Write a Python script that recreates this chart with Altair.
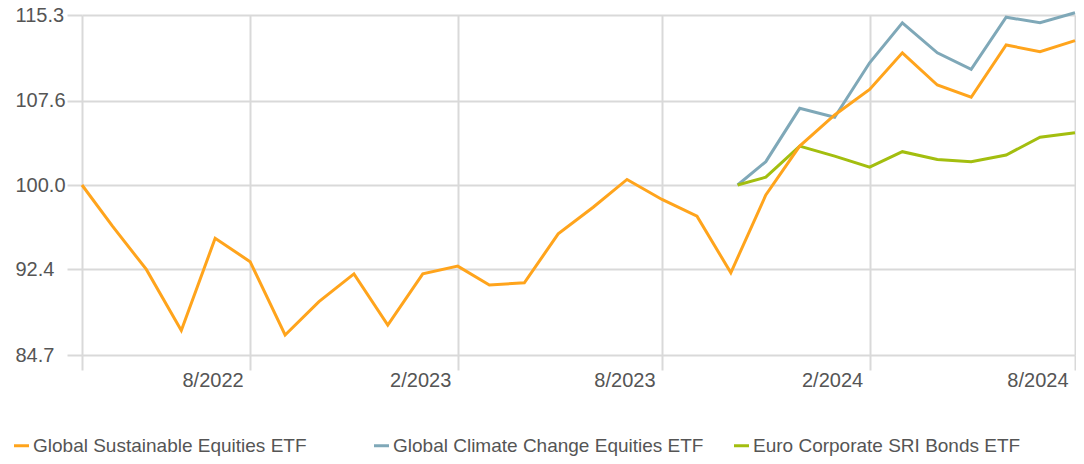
import altair as alt
import pandas as pd

# ---- data ----
series_names = ["Global Sustainable Equities ETF",
                "Global Climate Change Equities ETF",
                "Euro Corporate SRI Bonds ETF"]
series_colors = ["#FFA41C", "#7FA8B8", "#A3BE0F"]

orange_dates = ["2022-03-05"] + [d.strftime("%Y-%m-%d") for d in pd.date_range("2022-04-01", "2024-08-01", freq="MS")]
orange_values = [100.0, 96.3, 92.4, 86.9, 95.2, 93.1, 86.5, 89.5, 92.0, 87.4,
                 92.0, 92.7, 91.0, 91.2, 95.6, 98.0, 100.5, 98.7, 97.2, 92.1,
                 99.1, 103.5, 106.3, 108.6, 111.9, 109.0, 107.9, 112.6, 112.0, 113.0]

late_dates = ["2023-10-07"] + [d.strftime("%Y-%m-%d") for d in pd.date_range("2023-11-01", "2024-08-01", freq="MS")]
blue_values = [100.0, 102.1, 106.9, 106.1, 111.0, 114.6, 111.9, 110.4, 115.1, 114.6, 115.5]
green_values = [100.0, 100.7, 103.5, 102.6, 101.6, 103.0, 102.3, 102.1, 102.7, 104.3, 104.7]

y_ticks = [84.7, 92.4, 100.0, 107.6, 115.3]
x_tick_dates = ["2022-03-05", "2022-08-01", "2023-02-01", "2023-08-01", "2024-02-01", "2024-08-01"]

# ---- build table (blue & green first so orange draws on top) ----
rows = []
for d, v in zip(late_dates, blue_values):
    rows.append({"date": d, "value": v, "series": series_names[1]})
for d, v in zip(late_dates, green_values):
    rows.append({"date": d, "value": v, "series": series_names[2]})
for d, v in zip(orange_dates, orange_values):
    rows.append({"date": d, "value": v, "series": series_names[0]})
df = pd.DataFrame(rows)

def ms(s):
    return int(pd.Timestamp(s, tz="UTC").timestamp() * 1000)

x_domain = [ms(orange_dates[0]), ms("2024-08-01")]
x_vals = [ms(s) for s in x_tick_dates]

FONT = "Liberation Sans"
GRID = "#D9D9D9"
TXT = "#555555"

chart = alt.Chart(df).mark_line(strokeWidth=3, strokeJoin="miter").encode(
    x=alt.X("date:T",
            scale=alt.Scale(type="utc", domain=x_domain, nice=False),
            axis=alt.Axis(values=x_vals, title=None, grid=True, gridColor=GRID, gridWidth=2,
                          domain=False, ticks=True, tickSize=15, tickColor=GRID, tickWidth=2,
                          labelExpr=f"datum.value < {x_vals[1] - 86400000} ? '' : utcFormat(datum.value, '%-m/%Y')",
                          labelAlign="right", labelOffset=-7, labelBaseline="top", labelPadding=0,
                          labelFont=FONT, labelFontSize=20, labelColor=TXT, labelOverlap=False,
                          labelFlush=False)),
    y=alt.Y("value:Q",
            scale=alt.Scale(domain=[84.7, 115.3], nice=False, zero=False),
            axis=alt.Axis(values=y_ticks, format=".1f", title=None, grid=True, gridColor=GRID, gridWidth=2,
                          domain=False, ticks=True, tickSize=15, tickColor=GRID, tickWidth=2,
                          labelAlign="left", labelPadding=52, labelBaseline="middle",
                          labelFont=FONT, labelFontSize=20, labelColor=TXT, labelOverlap=False,
                          labelFlush=False)),
    color=alt.Color("series:N",
                    scale=alt.Scale(domain=series_names, range=series_colors),
                    legend=alt.Legend(title=None, orient="none", legendX=-70, legendY=421,
                                      direction="horizontal", columns=3, gridAlign="all",
                                      columnPadding=24, symbolType="stroke", symbolSize=225,
                                      symbolStrokeWidth=3, labelFont=FONT, labelFontSize=19,
                                      labelColor=TXT, labelOffset=2, labelLimit=600, padding=0))
).properties(
    width=993, height=340,
    autosize=alt.AutoSizeParams(type="none"),
    padding={"left": 74, "top": 7, "right": 1, "bottom": 101}
).configure_view(stroke=None)

chart.save("out.html", embed_options={"renderer": "svg", "actions": False})
